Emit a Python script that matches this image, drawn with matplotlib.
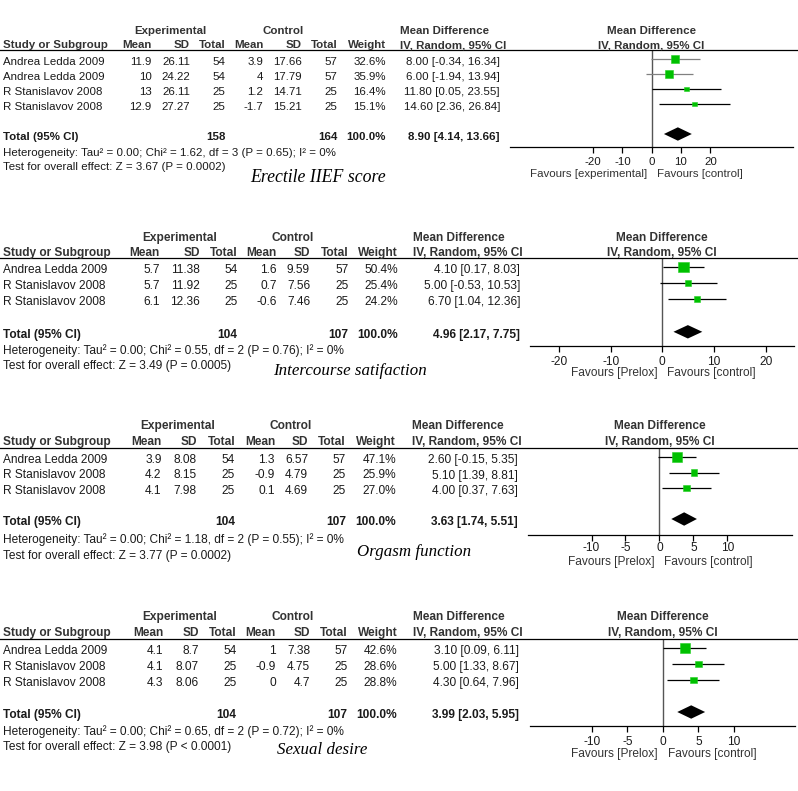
import matplotlib
matplotlib.use("Agg")
import matplotlib.pyplot as plt
from matplotlib.lines import Line2D

plt.rcParams['font.family'] = ['Liberation Sans', 'DejaVu Sans']
plt.rcParams['axes.unicode_minus'] = False

W, H = 798, 791

# ---- Erectile IIEF score ----
erectile_studies = ["Andrea Ledda 2009", "Andrea Ledda 2009", "R Stanislavov 2008", "R Stanislavov 2008"]
erectile_exp_mean = [11.9, 10, 13, 12.9]
erectile_exp_sd = [26.11, 24.22, 26.11, 27.27]
erectile_exp_n = [54, 54, 25, 25]
erectile_ctl_mean = [3.9, 4, 1.2, -1.7]
erectile_ctl_sd = [17.66, 17.79, 14.71, 15.21]
erectile_ctl_n = [57, 57, 25, 25]
erectile_weight = [32.6, 35.9, 16.4, 15.1]
erectile_md = [8.00, 6.00, 11.80, 14.60]
erectile_lo = [-0.34, -1.94, 0.05, 2.36]
erectile_hi = [16.34, 13.94, 23.55, 26.84]
erectile_total = [158, 164, 8.90, 4.14, 13.66]
erectile_het = "Heterogeneity: Tau² = 0.00; Chi² = 1.62, df = 3 (P = 0.65); I² = 0%"
erectile_test = "Test for overall effect: Z = 3.67 (P = 0.0002)"
erectile_ticks = [-20, -10, 0, 10, 20]

# ---- Intercourse satisfaction ----
inter_studies = ["Andrea Ledda 2009", "R Stanislavov 2008", "R Stanislavov 2008"]
inter_exp_mean = [5.7, 5.7, 6.1]
inter_exp_sd = [11.38, 11.92, 12.36]
inter_exp_n = [54, 25, 25]
inter_ctl_mean = [1.6, 0.7, -0.6]
inter_ctl_sd = [9.59, 7.56, 7.46]
inter_ctl_n = [57, 25, 25]
inter_weight = [50.4, 25.4, 24.2]
inter_md = [4.10, 5.00, 6.70]
inter_lo = [0.17, -0.53, 1.04]
inter_hi = [8.03, 10.53, 12.36]
inter_total = [104, 107, 4.96, 2.17, 7.75]
inter_het = "Heterogeneity: Tau² = 0.00; Chi² = 0.55, df = 2 (P = 0.76); I² = 0%"
inter_test = "Test for overall effect: Z = 3.49 (P = 0.0005)"
inter_ticks = [-20, -10, 0, 10, 20]

# ---- Orgasm function ----
orgasm_studies = ["Andrea Ledda 2009", "R Stanislavov 2008", "R Stanislavov 2008"]
orgasm_exp_mean = [3.9, 4.2, 4.1]
orgasm_exp_sd = [8.08, 8.15, 7.98]
orgasm_exp_n = [54, 25, 25]
orgasm_ctl_mean = [1.3, -0.9, 0.1]
orgasm_ctl_sd = [6.57, 4.79, 4.69]
orgasm_ctl_n = [57, 25, 25]
orgasm_weight = [47.1, 25.9, 27.0]
orgasm_md = [2.60, 5.10, 4.00]
orgasm_lo = [-0.15, 1.39, 0.37]
orgasm_hi = [5.35, 8.81, 7.63]
orgasm_total = [104, 107, 3.63, 1.74, 5.51]
orgasm_het = "Heterogeneity: Tau² = 0.00; Chi² = 1.18, df = 2 (P = 0.55); I² = 0%"
orgasm_test = "Test for overall effect: Z = 3.77 (P = 0.0002)"
orgasm_ticks = [-10, -5, 0, 5, 10]

# ---- Sexual desire ----
desire_studies = ["Andrea Ledda 2009", "R Stanislavov 2008", "R Stanislavov 2008"]
desire_exp_mean = [4.1, 4.1, 4.3]
desire_exp_sd = [8.7, 8.07, 8.06]
desire_exp_n = [54, 25, 25]
desire_ctl_mean = [1, -0.9, 0]
desire_ctl_sd = [7.38, 4.75, 4.7]
desire_ctl_n = [57, 25, 25]
desire_weight = [42.6, 28.6, 28.8]
desire_md = [3.10, 5.00, 4.30]
desire_lo = [0.09, 1.33, 0.64]
desire_hi = [6.11, 8.67, 7.96]
desire_total = [104, 107, 3.99, 2.03, 5.95]
desire_het = "Heterogeneity: Tau² = 0.00; Chi² = 0.65, df = 2 (P = 0.72); I² = 0%"
desire_test = "Test for overall effect: Z = 3.98 (P < 0.0001)"
desire_ticks = [-10, -5, 0, 5, 10]

panels = [
    dict(studies=erectile_studies, em=erectile_exp_mean, esd=erectile_exp_sd, en=erectile_exp_n,
         cm=erectile_ctl_mean, csd=erectile_ctl_sd, cn=erectile_ctl_n, w=erectile_weight,
         md=erectile_md, lo=erectile_lo, hi=erectile_hi, total=erectile_total,
         het=erectile_het, test=erectile_test, ticks=erectile_ticks,
         fav=("Favours [experimental]", "Favours [control]"), label="Erectile IIEF score"),
    dict(studies=inter_studies, em=inter_exp_mean, esd=inter_exp_sd, en=inter_exp_n,
         cm=inter_ctl_mean, csd=inter_ctl_sd, cn=inter_ctl_n, w=inter_weight,
         md=inter_md, lo=inter_lo, hi=inter_hi, total=inter_total,
         het=inter_het, test=inter_test, ticks=inter_ticks,
         fav=("Favours [Prelox]", "Favours [control]"), label="Intercourse satifaction"),
    dict(studies=orgasm_studies, em=orgasm_exp_mean, esd=orgasm_exp_sd, en=orgasm_exp_n,
         cm=orgasm_ctl_mean, csd=orgasm_ctl_sd, cn=orgasm_ctl_n, w=orgasm_weight,
         md=orgasm_md, lo=orgasm_lo, hi=orgasm_hi, total=orgasm_total,
         het=orgasm_het, test=orgasm_test, ticks=orgasm_ticks,
         fav=("Favours [Prelox]", "Favours [control]"), label="Orgasm function"),
    dict(studies=desire_studies, em=desire_exp_mean, esd=desire_exp_sd, en=desire_exp_n,
         cm=desire_ctl_mean, csd=desire_ctl_sd, cn=desire_ctl_n, w=desire_weight,
         md=desire_md, lo=desire_lo, hi=desire_hi, total=desire_total,
         het=desire_het, test=desire_test, ticks=desire_ticks,
         fav=("Favours [Prelox]", "Favours [control]"), label="Sexual desire"),
]

# layout of each block, in pixels of the 798x791 picture
layouts = [
    dict(fs=8.25, h1=31, h2=45, line=50, row0=62, dy=15, het=153, test=167,
         cols=[151.7, 190, 225.7, 263.3, 301.7, 337.3, 385.7], expc=170, ctlc=282.7,
         mdl=400, mdr=500, fl=510, fr=793, axis=147, xlim=(-48.4, 48.2),
         tick_y=161, fav_y=174, lab=(250, 178), lab_fs=12.8,
         ci_col=['#808080', '#808080', 'black', 'black']),
    dict(fs=8.6, h1=237.7, h2=253, line=258, row0=270, dy=16.2, het=351, test=365.7,
         cols=[160, 200, 237.7, 276.7, 310, 348.3, 398], expc=180, ctlc=293,
         mdl=413, mdr=520, fl=530, fr=794, axis=345.7, xlim=(-25.6, 25.5),
         tick_y=360, fav_y=372.7, lab=(273, 371), lab_fs=12.2, ci_col=['black'] * 3),
    dict(fs=8.6, h1=426, h2=442.3, line=447.7, row0=460, dy=15.5, het=539.3, test=556,
         cols=[161.7, 197, 235, 275, 308, 346, 396], expc=178, ctlc=291,
         mdl=412, mdr=518, fl=528.3, fr=792, axis=535, xlim=(-19.3, 19.5),
         tick_y=546.7, fav_y=562.3, lab=(357, 552), lab_fs=12.2, ci_col=['black'] * 3),
    dict(fs=8.6, h1=617.3, h2=633.3, line=639, row0=651, dy=16, het=731.7, test=746.7,
         cols=[163.3, 199, 236.7, 276, 310, 347.3, 397.3], expc=180, ctlc=292.7,
         mdl=413, mdr=519.3, fl=530, fr=795, axis=726, xlim=(-18.7, 18.6),
         tick_y=740, fav_y=754.3, lab=(277, 750), lab_fs=12.2, ci_col=['black'] * 3),
]

TXT = '#1a1a1a'
HDR = '#333333'


def draw_panel(fig, p, L):
    fs = L['fs']

    def txt(x, y, s, ha='left', bold=False, color=TXT):
        fig.text(x / W, 1 - y / H, s, ha=ha, va='center', fontsize=fs,
                 fontweight='bold' if bold else 'normal', color=color)

    fcx = (L['fl'] + L['fr']) / 2
    # headers
    txt(L['expc'], L['h1'], "Experimental", 'center', True, HDR)
    txt(L['ctlc'], L['h1'], "Control", 'center', True, HDR)
    txt(L['mdl'], L['h1'], "Mean Difference", 'left', True, HDR)
    txt(fcx, L['h1'], "Mean Difference", 'center', True, HDR)
    txt(3, L['h2'], "Study or Subgroup", 'left', True, HDR)
    for name, x in zip(["Mean", "SD", "Total", "Mean", "SD", "Total", "Weight"], L['cols']):
        txt(x, L['h2'], name, 'right', True, HDR)
    txt(L['mdl'], L['h2'], "IV, Random, 95% CI", 'left', True, HDR)
    txt(fcx, L['h2'], "IV, Random, 95% CI", 'center', True, HDR)
    fig.add_artist(Line2D([0, 1], [1 - L['line'] / H] * 2, transform=fig.transFigure,
                          color='black', lw=0.9))

    # study rows
    n = len(p['studies'])
    for i in range(n):
        y = L['row0'] + i * L['dy']
        txt(3, y, p['studies'][i])
        vals = [f"{p['em'][i]:g}", f"{p['esd'][i]:g}", f"{p['en'][i]}",
                f"{p['cm'][i]:g}", f"{p['csd'][i]:g}", f"{p['cn'][i]}",
                f"{p['w'][i]:.1f}%"]
        for v, x in zip(vals, L['cols']):
            txt(x, y, v, 'right')
        txt(L['mdr'], y, f"{p['md'][i]:.2f} [{p['lo'][i]:.2f}, {p['hi'][i]:.2f}]", 'right')

    # total row
    t = p['total']
    yt = L['row0'] + (n + 1) * L['dy']
    txt(3, yt, "Total (95% CI)", bold=True)
    txt(L['cols'][2], yt, f"{t[0]}", 'right', True)
    txt(L['cols'][5], yt, f"{t[1]}", 'right', True)
    txt(L['cols'][6], yt, "100.0%", 'right', True)
    txt(L['mdr'], yt, f"{t[2]:.2f} [{t[3]:.2f}, {t[4]:.2f}]", 'right', True)
    txt(3, L['het'], p['het'])
    txt(3, L['test'], p['test'])

    fig.text(L['lab'][0] / W, 1 - L['lab'][1] / H, p['label'], ha='left', va='center',
             fontsize=L['lab_fs'], family=['Liberation Serif', 'DejaVu Serif'],
             style='italic', color='black')

    # forest plot
    sq0 = L['row0'] - 3
    ax = fig.add_axes([L['fl'] / W, 1 - L['axis'] / H, (L['fr'] - L['fl']) / W,
                       (L['axis'] - L['line']) / H])
    ax.patch.set_visible(False)
    ax.set_xlim(*L['xlim'])
    ax.set_ylim((L['axis'] - sq0) / L['dy'], (L['line'] - sq0) / L['dy'])
    for s in ['top', 'left', 'right']:
        ax.spines[s].set_visible(False)
    ax.spines['bottom'].set_linewidth(0.9)
    ax.set_yticks([])
    ax.set_xticks(p['ticks'])
    ax.set_xticklabels([str(v) for v in p['ticks']])
    pad_px = L['tick_y'] - L['axis'] - 5 - 5
    ax.tick_params(axis='x', length=4, width=0.9, pad=pad_px * 0.72, labelsize=fs,
                   labelcolor=TXT)
    ax.axvline(0, color='#555555', lw=1.0, zorder=1)

    rows = list(range(n))
    ax.hlines(rows, p['lo'], p['hi'], colors=L['ci_col'], lw=0.9, zorder=2)
    sizes = [((1.6 + 0.18 * w) * 0.72) ** 2 for w in p['w']]
    ax.scatter(p['md'], rows, s=sizes, marker='s', c='#00c000', edgecolors='#22d022',
               linewidths=0.4, zorder=3)
    hh = 6.7 / L['dy']
    ax.fill([t[3], t[2], t[4], t[2]], [n + 1, n + 1 - hh, n + 1, n + 1 + hh],
            color='black', zorder=3, lw=0)

    off = L['fav_y'] - L['axis']
    ax.annotate(p['fav'][0], xy=(0, 0), xycoords=('data', 'axes fraction'),
                xytext=(-5, -off), textcoords='offset pixels', ha='right', va='center',
                fontsize=fs, color=HDR, annotation_clip=False)
    ax.annotate(p['fav'][1], xy=(0, 0), xycoords=('data', 'axes fraction'),
                xytext=(5, -off), textcoords='offset pixels', ha='left', va='center',
                fontsize=fs, color=HDR, annotation_clip=False)


def main():
    fig = plt.figure(figsize=(W / 100, H / 100), dpi=100)
    fig.patch.set_facecolor('white')
    for p, L in zip(panels, layouts):
        draw_panel(fig, p, L)
    fig.savefig("out.png", dpi=100)


if __name__ == "__main__":
    main()
